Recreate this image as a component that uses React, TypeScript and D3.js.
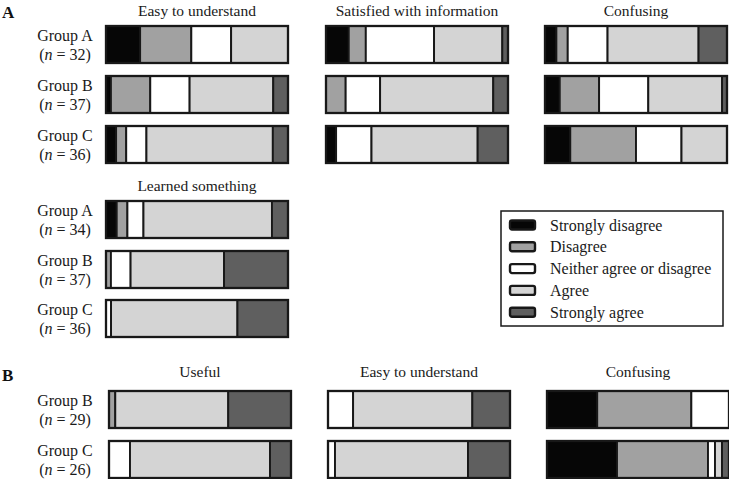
import React from "react";
import * as d3 from "d3";

const categories = ["Strongly disagree", "Disagree", "Neither agree or disagree", "Agree", "Strongly agree"];
const colors = ["#060606", "#a1a1a1", "#ffffff", "#d4d4d4", "#5f5f5f"];

const questionsA = ["Easy to understand", "Satisfied with information", "Confusing"];
const groupsA = ["Group A", "Group B", "Group C"];
const nA = [32, 37, 36];
const easyA = [[6, 9, 7, 10, 0], [1, 8, 8, 17, 3], [2, 2, 4, 25, 3]];
const satisfiedA = [[4, 3, 12, 12, 1], [0, 4, 7, 23, 3], [2, 0, 7, 21, 6]];
const confusingA = [[2, 2, 7, 16, 5], [3, 8, 10, 15, 1], [5, 13, 9, 9, 0]];

const learnedTitle = "Learned something";
const nLearned = [34, 37, 36];
const learnedA = [[2, 2, 3, 24, 3], [0, 1, 4, 19, 13], [0, 0, 1, 25, 10]];

const questionsB = ["Useful", "Easy to understand", "Confusing"];
const groupsB = ["Group B", "Group C"];
const nB = [29, 26];
const usefulB = [[0, 1, 0, 18, 10], [0, 0, 3, 20, 3]];
const easyB = [[0, 0, 4, 19, 6], [0, 0, 1, 19, 6]];
const confusingB = [[8, 15, 6, 0, 0], [10, 13, 1, 1, 1]];

const FONT = "'Liberation Serif', 'Times New Roman', serif";
const STROKE = "#181818";

function Bar({ x0, y0, w, h, counts }: { x0: number; y0: number; w: number; h: number; counts: number[] }) {
  const total = d3.sum(counts);
  const sx = d3.scaleLinear().domain([0, total]).range([x0, x0 + w]);
  const cum = [0, ...Array.from(d3.cumsum(counts))];
  return (
    <g>
      {counts.map((c, i) =>
        c > 0 ? (
          <rect
            key={i}
            x={sx(cum[i])}
            y={y0}
            width={sx(cum[i + 1]) - sx(cum[i])}
            height={h}
            fill={colors[i]}
            stroke={STROKE}
            strokeWidth={1.9}
          />
        ) : null
      )}
      <rect x={x0} y={y0} width={w} height={h} fill="none" stroke={STROKE} strokeWidth={2.3} />
    </g>
  );
}

function GroupLabel({ x, yc, name, n }: { x: number; yc: number; name: string; n: number }) {
  return (
    <g fontFamily={FONT} fontSize={16} fill="#1a1a1a" textAnchor="middle">
      <text x={x} y={yc - 4}>{name}</text>
      <text x={x} y={yc + 15}>
        (<tspan fontStyle="italic">n</tspan> = {n})
      </text>
    </g>
  );
}

export default function App() {
  const W = 729;
  const H = 479;
  const barW = 182;
  const barH = 37;
  const colXA = [106, 326, 545];
  const colXB = [109, 328, 547];
  const rowYA = [26, 76, 126];
  const rowYL = [201, 251, 300];
  const rowYB = [391, 441];
  const labelX = 65;
  const dataA = [easyA, satisfiedA, confusingA];
  const dataB = [usefulB, easyB, confusingB];

  const legendX = 501;
  const legendY = 211;
  const legendW = 222;
  const legendH = 115;
  const legendStep = 21.8;

  return (
    <svg width={W} height={H} style={{ position: "absolute", left: 0, top: 0, background: "#fff" }}>
      <text x={2} y={18} fontFamily={FONT} fontWeight="bold" fontSize={17} fill="#111">A</text>
      <text x={2} y={381} fontFamily={FONT} fontWeight="bold" fontSize={17} fill="#111">B</text>

      {questionsA.map((q, ci) => (
        <text key={q + ci} x={colXA[ci] + barW / 2} y={16} textAnchor="middle" fontFamily={FONT} fontSize={15.5} fill="#1a1a1a">
          {q}
        </text>
      ))}
      {groupsA.map((g, ri) => (
        <GroupLabel key={g} x={labelX} yc={rowYA[ri] + barH / 2} name={g} n={nA[ri]} />
      ))}
      {dataA.map((d, ci) =>
        d.map((counts, ri) => (
          <Bar key={ci + "-" + ri} x0={colXA[ci]} y0={rowYA[ri]} w={barW} h={barH} counts={counts} />
        ))
      )}

      <text x={colXA[0] + barW / 2} y={191} textAnchor="middle" fontFamily={FONT} fontSize={15.5} fill="#1a1a1a">
        {learnedTitle}
      </text>
      {groupsA.map((g, ri) => (
        <GroupLabel key={"l" + g} x={labelX} yc={rowYL[ri] + barH / 2} name={g} n={nLearned[ri]} />
      ))}
      {learnedA.map((counts, ri) => (
        <Bar key={"l" + ri} x0={colXA[0]} y0={rowYL[ri]} w={barW} h={barH} counts={counts} />
      ))}

      <g>
        <rect x={legendX} y={legendY} width={legendW} height={legendH} fill="#fff" stroke={STROKE} strokeWidth={1.5} />
        {categories.map((c, i) => (
          <g key={c} transform={`translate(${legendX + 9},${legendY + 14 + i * legendStep})`}>
            <rect x={0} y={-4.5} width={25} height={9} rx={2} fill={colors[i]} stroke={STROKE} strokeWidth={2.4} />
            <text x={40} y={5.5} fontFamily={FONT} fontSize={16} fill="#1a1a1a">{c}</text>
          </g>
        ))}
      </g>

      {questionsB.map((q, ci) => (
        <text key={"b" + q} x={colXB[ci] + barW / 2} y={377} textAnchor="middle" fontFamily={FONT} fontSize={15.5} fill="#1a1a1a">
          {q}
        </text>
      ))}
      {groupsB.map((g, ri) => (
        <GroupLabel key={"b" + g} x={labelX} yc={rowYB[ri] + barH / 2} name={g} n={nB[ri]} />
      ))}
      {dataB.map((d, ci) =>
        d.map((counts, ri) => (
          <Bar key={"b" + ci + "-" + ri} x0={colXB[ci]} y0={rowYB[ri]} w={barW} h={barH} counts={counts} />
        ))
      )}
    </svg>
  );
}
